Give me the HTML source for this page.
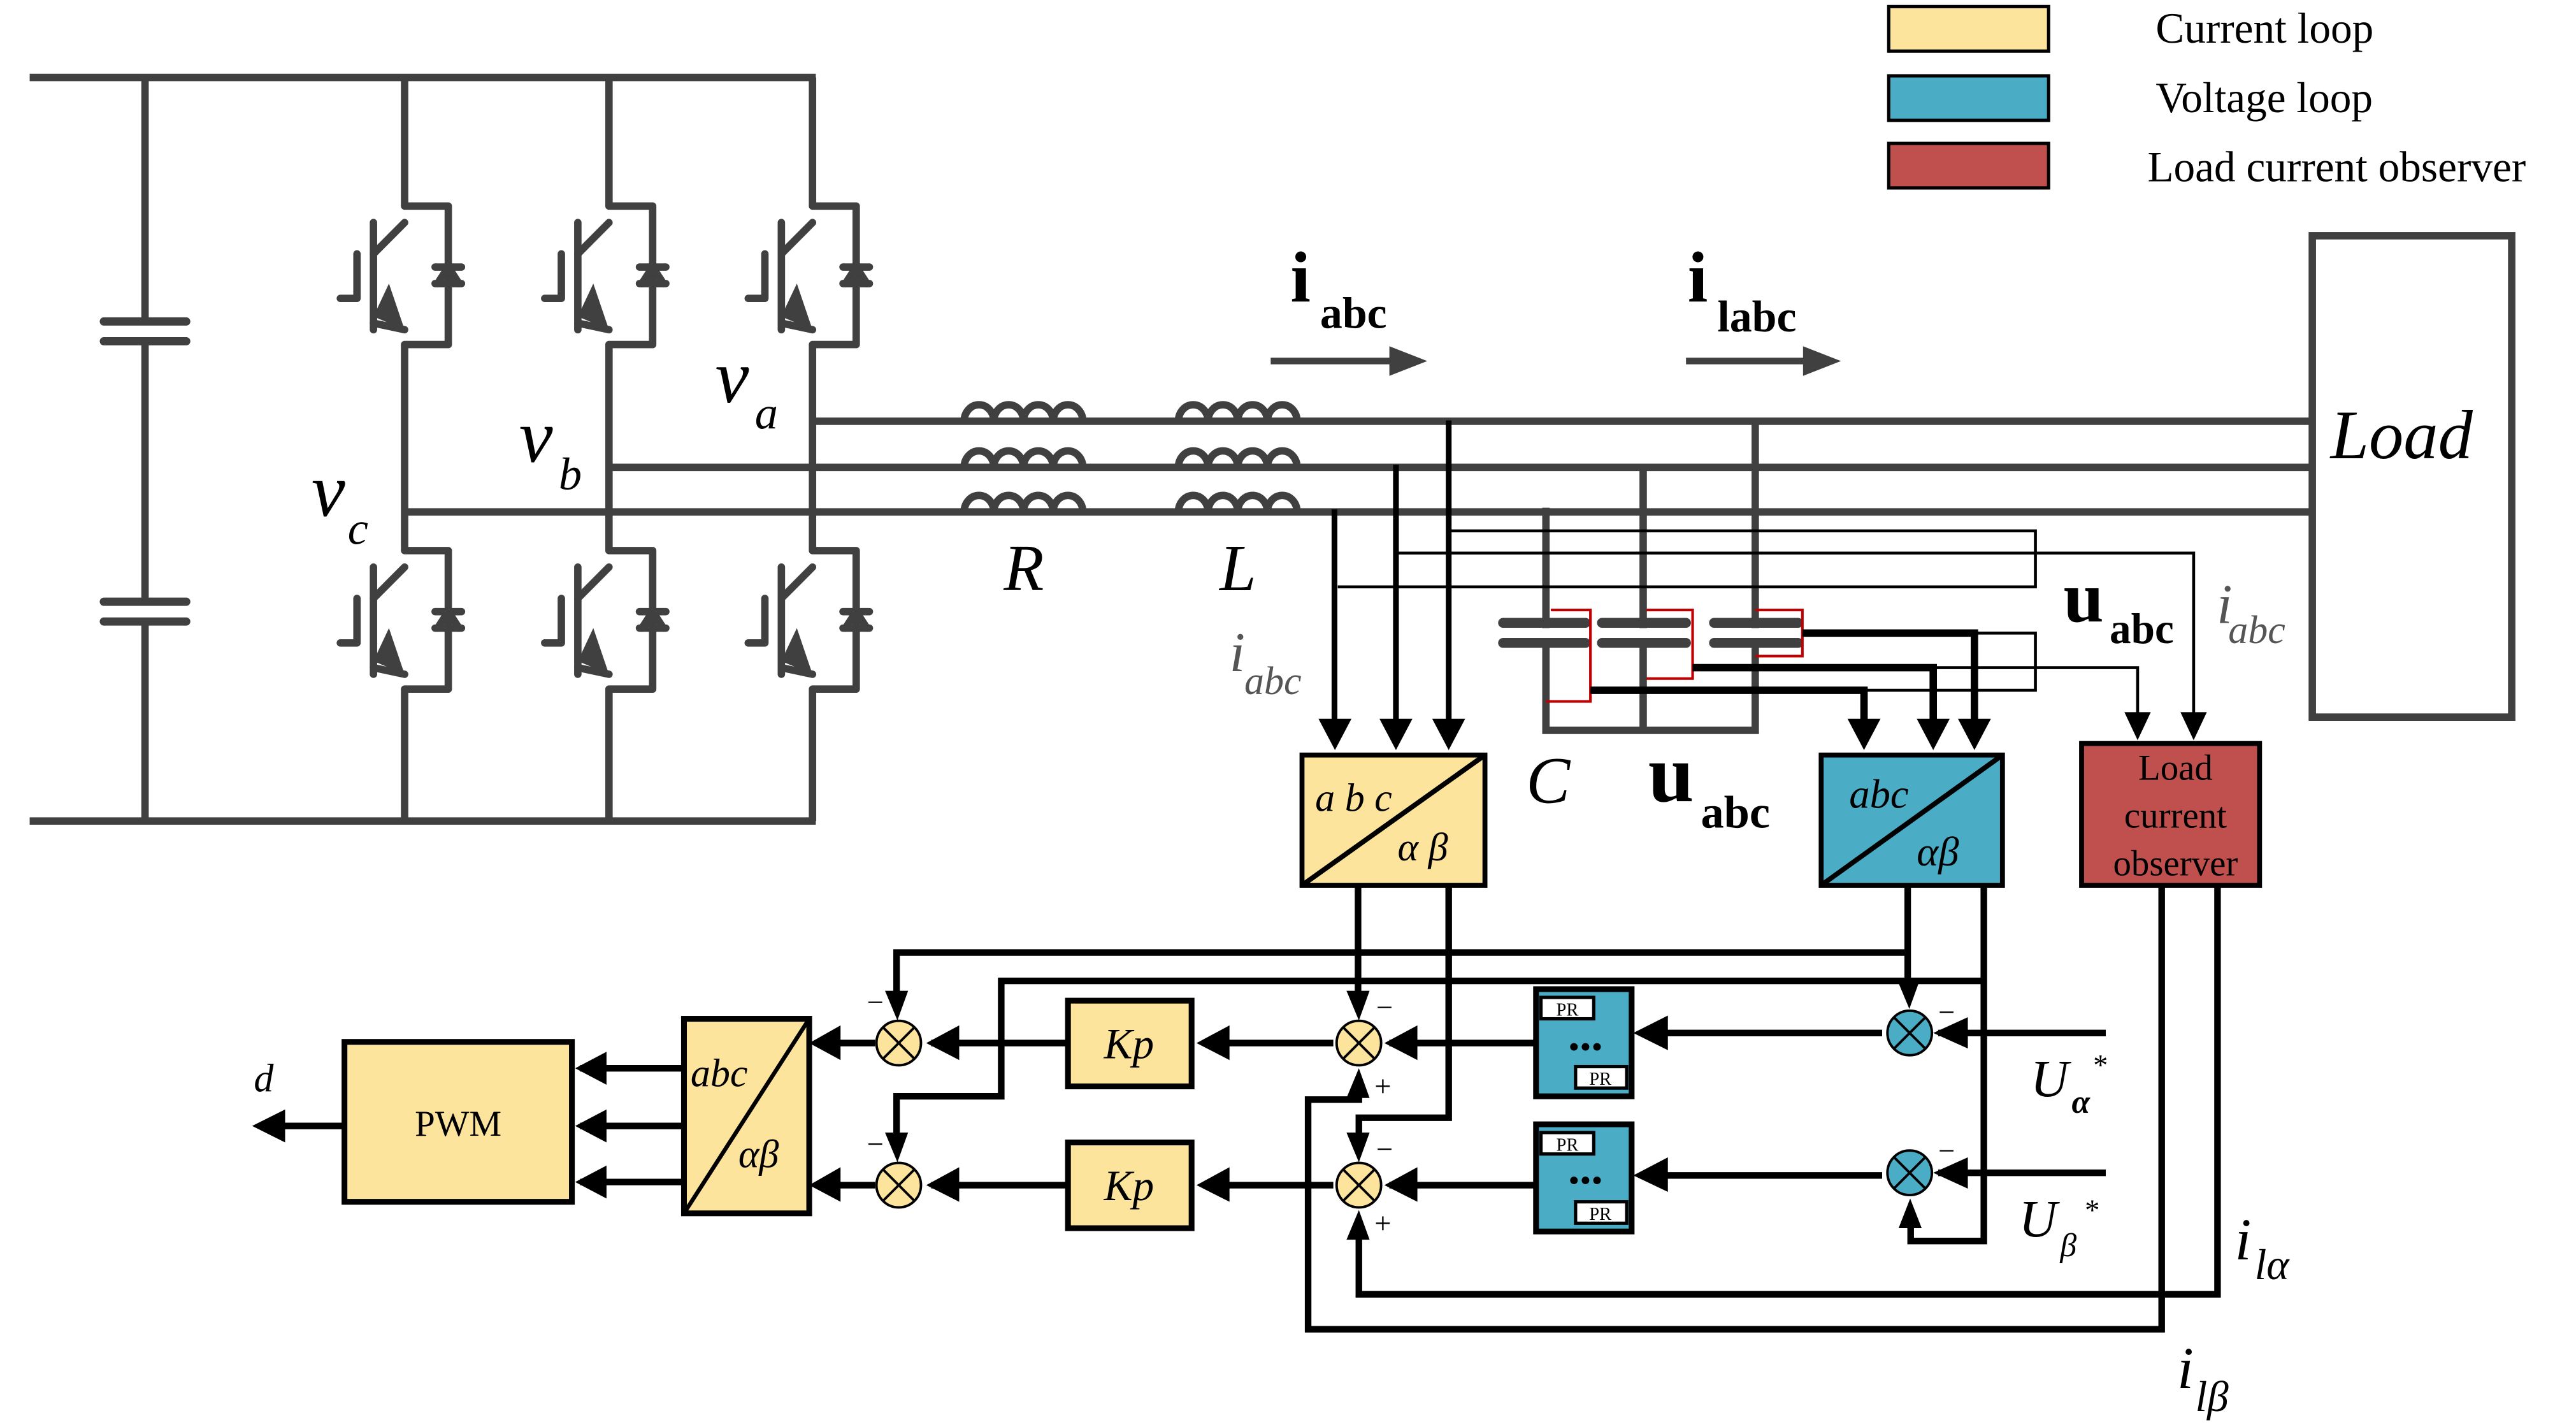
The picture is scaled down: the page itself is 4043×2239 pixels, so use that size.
<!DOCTYPE html>
<html><head><meta charset="utf-8"><style>
html,body{margin:0;padding:0;background:#fff;}
svg{display:block;}
svg text{font-family:"Liberation Serif",serif;}
</style></head><body>
<svg width="4043" height="2239" viewBox="0 0 1563 865.6" preserveAspectRatio="none" xmlns="http://www.w3.org/2000/svg" font-family="Liberation Serif, serif">
<defs>
<g id="sw" stroke="#404040" stroke-width="4.5" fill="none" stroke-linecap="round" stroke-linejoin="round">
<path d="M-18.9,10 V75"/>
<path d="M0,10 L-18.9,29"/>
<path d="M-28.9,29 V56 H-39"/>
<path d="M-18.9,71 L0,75"/>
<path d="M0,0 H26.5 V84 H0"/>
<path d="M18.5,37 H34.5"/>
<path d="M18.5,47 H34.5"/>
<path d="M20,47 L26.5,37 L33,47"/>
</g>
</defs>
<g fill="none" stroke="#404040" stroke-width="4.5">
<path d="M18,47 H495 M18,498 H495"/>
<path d="M88,47 V195 M88,207 V365 M88,377 V498"/>
<path d="M63,195 H113 M63,207 H113 M63,365 H113 M63,377 H113" stroke-linecap="round" stroke-width="5"/>
<path d="M245.5,47 V125 M245.5,209 V334 M245.5,418 V498"/>
<path d="M369.5,47 V125 M369.5,209 V334 M369.5,418 V498"/>
<path d="M493,47 V125 M493,209 V334 M493,418 V498"/>
<path d="M493,255.5 H1403 M369.5,283.5 H1403 M245.5,310.5 H1403"/>
<rect x="1403" y="143" width="121" height="292"/>
<path d="M938,308 V443 H1065 V257 M997,284 V443"/>
<path d="M912,377.8 H962 M912,390 H962 M972,377.8 H1023 M972,390 H1023 M1040,377.8 H1091 M1040,390 H1091" stroke-width="6" stroke-linecap="round"/>
</g>
<g stroke="#fff" stroke-width="6">
<path d="M938,381 V387 M997,381 V387 M1065,381 V387"/>
</g>
<g fill="none" stroke="#404040" stroke-width="4.5">
<path d="M585,255.5 a9,10 0 0 1 18,0 a9,10 0 0 1 18,0 a9,10 0 0 1 18,0 a9,10 0 0 1 18,0 M715,255.5 a9,10 0 0 1 18,0 a9,10 0 0 1 18,0 a9,10 0 0 1 18,0 a9,10 0 0 1 18,0"/>
<path d="M585,283.5 a9,10 0 0 1 18,0 a9,10 0 0 1 18,0 a9,10 0 0 1 18,0 a9,10 0 0 1 18,0 M715,283.5 a9,10 0 0 1 18,0 a9,10 0 0 1 18,0 a9,10 0 0 1 18,0 a9,10 0 0 1 18,0"/>
<path d="M585,310.5 a9,10 0 0 1 18,0 a9,10 0 0 1 18,0 a9,10 0 0 1 18,0 a9,10 0 0 1 18,0 M715,310.5 a9,10 0 0 1 18,0 a9,10 0 0 1 18,0 a9,10 0 0 1 18,0 a9,10 0 0 1 18,0"/>
</g>
<use href="#sw" x="245.5" y="125"/><use href="#sw" x="245.5" y="334"/>
<use href="#sw" x="369.5" y="125"/><use href="#sw" x="369.5" y="334"/>
<use href="#sw" x="493" y="125"/><use href="#sw" x="493" y="334"/>
<g fill="#404040">
<polygon points="226.6,192 236,172 245.5,200"/><polygon points="226.6,401 236,381 245.5,409"/>
<polygon points="350.6,192 360,172 369.5,200"/><polygon points="350.6,401 360,381 369.5,409"/>
<polygon points="474,192 483.5,172 493,200"/><polygon points="474,401 483.5,381 493,409"/>
</g>
<g fill="none" stroke="#c00000" stroke-width="1.6">
<path d="M941,370 H965 V425.5 H938"/>
<path d="M999,370 H1027 V411.6 H999"/>
<path d="M1065,370 H1093.6 V398 H1065"/>
</g>
<g fill="none" stroke="#000" stroke-width="1.8">
<path d="M879,322 H1235 V356 H811.7"/>
<path d="M847,335.5 H1331 V440"/>
<path d="M1198,384 H1235 V418.7 H1131"/>
<path d="M1173,405 H1297 V440"/>
</g>
<g fill="none" stroke="#000" stroke-width="3.5">
<path d="M879,255 V440 M847,282 V440 M809.7,309 V440"/>
<path d="M1093.6,384 H1198 V440 M1027,405 H1173 V440 M965,418.7 H1131 V440" stroke-width="4.5"/>
</g>
<g fill="#000">
<polygon points="869,436 889,436 879,455"/>
<polygon points="837,436 857,436 847,455"/>
<polygon points="800,436 820,436 810,455"/>
<polygon points="1121,436 1141,436 1131,455"/>
<polygon points="1163,436 1183,436 1173,455"/>
<polygon points="1188,436 1208,436 1198,455"/>
<polygon points="1289,432 1305,432 1297,449"/>
<polygon points="1323,432 1339,432 1331,449"/>
</g>
<g stroke="#000" stroke-width="3">
<rect x="790" y="458" width="111" height="79" fill="#FDE49D"/>
<line x1="790" y1="537" x2="901" y2="458"/>
<rect x="1105" y="458" width="110" height="79" fill="#4BACC6"/>
<line x1="1105" y1="537" x2="1215" y2="458"/>
<rect x="1263" y="451" width="108" height="86" fill="#C0504D"/>
</g>
<text x="798" y="492" font-size="24" font-style="italic">a b c</text>
<text x="848" y="522" font-size="24" font-style="italic">α β</text>
<text x="1122" y="490" font-size="25" font-style="italic">abc</text>
<text x="1163" y="525" font-size="25" font-style="italic">αβ</text>
<text x="1320" y="473" font-size="22" text-anchor="middle">Load</text>
<text x="1320" y="502" font-size="22" text-anchor="middle">current</text>
<text x="1320" y="531" font-size="22" text-anchor="middle">observer</text>
<g fill="none" stroke="#000" stroke-width="4">
<path d="M824,537 V612 M879,537 V678 H824.5 V698"/>
<path d="M1157.5,537 V605 M1203.7,537 V752.8 H1159.3 V735"/>
<path d="M1157.5,577.8 H544 V612"/>
<path d="M1203.7,595 H607.5 V665 H544 V698"/>
<path d="M1311.6,537 V806.3 H793.7 V667 H824.5 V655"/>
<path d="M1345.5,537 V785.1 H824.5 V740"/>
<path d="M1277.7,626.6 H1176 M1142,626.6 H995 M931,632.7 H843 M809,632.7 H730 M647,632.7 H565 M531,632.7 H495"/>
<path d="M1277.7,711.4 H1176 M1142,713 H995 M931,718.9 H843 M809,718.9 H730 M647,718.9 H565 M531,718.9 H495"/>
<path d="M414,648 H352 M414,683 H352 M414,717 H352 M208,683 H170"/>
</g>
<g fill="#000">
<polygon points="817,601 831,601 824.5,619"/><polygon points="537,601 551,601 544.5,619"/>
<polygon points="1151,594 1165,594 1158.5,612"/>
<polygon points="817,687 831,687 824.5,705"/><polygon points="537,687 551,687 544.5,705"/>
<polygon points="817,666 831,666 824.5,648"/><polygon points="817,752 831,752 824.5,734"/>
<polygon points="1152,745 1166,745 1159,727"/>
<polygon points="1194,617 1194,636 1173,626.6"/><polygon points="1194,702 1194,721 1173,711.4"/>
<polygon points="1012,616 1012,637 991,626.6"/><polygon points="1012,702 1012,723 991,713"/>
<polygon points="860,622 860,643 840,632.7"/><polygon points="860,708 860,729 840,718.9"/>
<polygon points="746,622 746,643 726,632.7"/><polygon points="746,708 746,729 726,718.9"/>
<polygon points="582,622 582,643 562,632.7"/><polygon points="582,708 582,729 562,718.9"/>
<polygon points="510,622 510,643 491,632.7"/><polygon points="510,708 510,729 491,718.9"/>
<polygon points="368,638 368,658 349,648"/><polygon points="368,673 368,693 349,683"/><polygon points="368,707 368,727 349,717"/>
<polygon points="173,673 173,693 153,683"/>
</g>
<g stroke="#000" stroke-width="1.5">
<g fill="#FDE49D">
<circle cx="545.3" cy="632.7" r="13.5"/><circle cx="545.3" cy="718.9" r="13.5"/>
<circle cx="824.5" cy="632.7" r="13.5"/><circle cx="824.5" cy="718.9" r="13.5"/>
</g>
<g fill="#4BACC6"><circle cx="1158.7" cy="626.6" r="13.5"/><circle cx="1158.7" cy="711.4" r="13.5"/></g>
<path d="M535.8,623.2 L554.8,642.2 M554.8,623.2 L535.8,642.2 M535.8,709.4 L554.8,728.4 M554.8,709.4 L535.8,728.4 M815,623.2 L834,642.2 M834,623.2 L815,642.2 M815,709.4 L834,728.4 M834,709.4 L815,728.4 M1149.2,617.1 L1168.2,636.1 M1168.2,617.1 L1149.2,636.1 M1149.2,701.9 L1168.2,720.9 M1168.2,701.9 L1149.2,720.9"/>
</g>
<g font-size="18">
<text x="526" y="614">−</text><text x="526" y="700">−</text>
<text x="835" y="617">−</text><text x="835" y="703">−</text>
<text x="834" y="665">+</text><text x="834" y="748">+</text>
<text x="1176" y="620">−</text><text x="1176" y="704">−</text>
</g>
<g stroke="#000" stroke-width="3.5" fill="#FDE49D">
<rect x="648" y="607" width="75" height="52"/><rect x="648" y="693" width="75" height="52"/>
</g>
<text x="685" y="642" font-size="26" font-style="italic" text-anchor="middle">Kp</text>
<text x="685" y="728" font-size="26" font-style="italic" text-anchor="middle">Kp</text>
<g stroke="#000" stroke-width="3.5" fill="#4BACC6">
<rect x="932" y="600" width="58" height="65"/><rect x="932" y="682" width="58" height="65"/>
</g>
<g stroke="#000" stroke-width="2" fill="#fff">
<rect x="935" y="605" width="32" height="13"/><rect x="956" y="647" width="31" height="13"/>
<rect x="935" y="687" width="32" height="13"/><rect x="956" y="729" width="31" height="13"/>
</g>
<g font-size="11" text-anchor="middle">
<text x="951" y="616">PR</text><text x="971" y="658">PR</text>
<text x="951" y="698">PR</text><text x="971" y="740">PR</text>
</g>
<g fill="#000"><circle cx="955" cy="635" r="2.3"/><circle cx="962" cy="635" r="2.3"/><circle cx="969" cy="635" r="2.3"/>
<circle cx="955" cy="716" r="2.3"/><circle cx="962" cy="716" r="2.3"/><circle cx="969" cy="716" r="2.3"/></g>
<g stroke="#000" stroke-width="3.5">
<rect x="415" y="618" width="76" height="118" fill="#FDE49D"/>
<line x1="415" y1="736" x2="491" y2="618" stroke-width="2.5"/>
<rect x="209" y="632" width="138" height="97" fill="#FDE49D"/>
</g>
<text x="419" y="659" font-size="24" font-style="italic">abc</text>
<text x="448" y="708" font-size="24" font-style="italic">αβ</text>
<text x="278" y="689" font-size="22" text-anchor="middle">PWM</text>
<text x="154" y="662" font-size="24" font-style="italic">d</text>
<text x="783" y="183" font-size="44" font-weight="bold">i</text>
<text x="801" y="199" font-size="27" font-weight="bold">abc</text>
<text x="1024" y="183" font-size="44" font-weight="bold">i</text>
<text x="1042" y="201" font-size="27" font-weight="bold">labc</text>
<g fill="#404040">
<path d="M771,219 H845" stroke="#404040" stroke-width="4"/><polygon points="843,210 866,219 843,228"/>
<path d="M1023,219 H1096" stroke="#404040" stroke-width="4"/><polygon points="1094,210 1117,219 1094,228"/>
</g>
<text x="434" y="244" font-size="46" font-style="italic">v</text>
<text x="458" y="260" font-size="28" font-style="italic">a</text>
<text x="315" y="280" font-size="46" font-style="italic">v</text>
<text x="339" y="297" font-size="28" font-style="italic">b</text>
<text x="189" y="313" font-size="46" font-style="italic">v</text>
<text x="211" y="330" font-size="28" font-style="italic">c</text>
<text x="609" y="358" font-size="40" font-style="italic">R</text>
<text x="740" y="358" font-size="40" font-style="italic">L</text>
<text x="926" y="487" font-size="40" font-style="italic">C</text>
<text x="1000" y="486" font-size="50" font-weight="bold">u</text>
<text x="1032" y="502" font-size="28" font-weight="bold">abc</text>
<text x="1252" y="377" font-size="44" font-weight="bold">u</text>
<text x="1280" y="390" font-size="26" font-weight="bold">abc</text>
<g fill="#555" font-style="italic">
<text x="746" y="407" font-size="34">i</text><text x="755" y="421" font-size="24">abc</text>
<text x="1345" y="378" font-size="34">i</text><text x="1352" y="390" font-size="24">abc</text>
</g>
<text x="1414" y="278" font-size="42" font-style="italic">Load</text>
<text x="1232" y="665" font-size="32" font-style="italic">U</text><text x="1257" y="675" font-size="20" font-style="italic" font-weight="bold">α</text><text x="1270" y="652" font-size="18">*</text>
<text x="1225" y="750" font-size="32" font-style="italic">U</text><text x="1250" y="762" font-size="20" font-style="italic">β</text><text x="1265" y="740" font-size="18">*</text>
<text x="1356" y="764" font-size="36" font-style="italic">i</text><text x="1368" y="776" font-size="26" font-style="italic">lα</text>
<text x="1321" y="842" font-size="36" font-style="italic">i</text><text x="1332" y="856" font-size="26" font-style="italic">lβ</text>
<g stroke="#000" stroke-width="2">
<rect x="1146" y="4" width="97" height="27" fill="#FDE49D"/>
<rect x="1146" y="46" width="97" height="27" fill="#4BACC6"/>
<rect x="1146" y="87" width="97" height="27" fill="#C0504D"/>
</g>
<g font-size="26">
<text x="1308" y="26">Current loop</text>
<text x="1308" y="68">Voltage loop</text>
<text x="1303" y="110">Load current observer</text>
</g>
</svg>
</body></html>
